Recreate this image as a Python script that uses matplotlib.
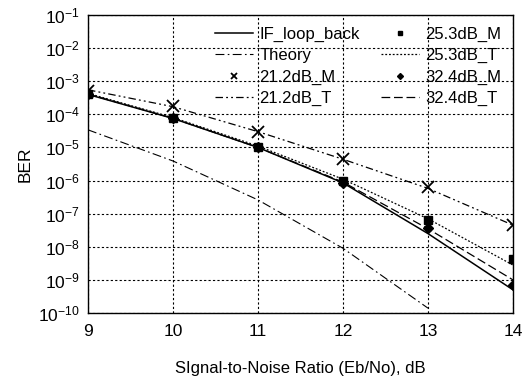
import numpy as np
import matplotlib.pyplot as plt

plt.rcParams['font.family'] = ['Liberation Sans', 'DejaVu Sans']

# data
snr = [9, 10, 11, 12, 13, 14]
snr_theory = [9, 10, 11, 12, 13]

if_loop = [4.0e-4, 7.5e-5, 1.0e-5, 8.5e-7, 2.5e-8, 5.0e-10]
theory = [3.4e-5, 3.9e-6, 2.6e-7, 9.0e-9, 1.4e-10]
m21 = [5.0e-4, 1.8e-4, 3.0e-5, 4.6e-6, 6.3e-7, 4.7e-8]
t21 = [5.5e-4, 1.7e-4, 3.0e-5, 4.4e-6, 5.8e-7, 4.5e-8]
m25 = [4.2e-4, 7.8e-5, 1.0e-5, 9.5e-7, 6.5e-8, 4.3e-9]
t25 = [4.3e-4, 8.0e-5, 1.1e-5, 1.1e-6, 7.0e-8, 2.8e-9]
m32 = [4.0e-4, 7.5e-5, 1.0e-5, 8.5e-7, 3.7e-8, 7.0e-10]
t32 = [4.1e-4, 7.6e-5, 1.0e-5, 9.0e-7, 3.5e-8, 1.0e-9]

fig = plt.figure(figsize=(5.22, 3.78), dpi=100)
ax = fig.add_axes([88/522, 1 - 313/378, 425/522, 298/378])

ax.plot(snr, if_loop, '-', color='black', lw=1.1, label='IF_loop_back')
ax.plot(snr_theory, theory, color='black', lw=0.8, dashes=[8, 3, 1.5, 3], label='Theory')
ax.plot(snr, m21, 'x', color='black', ms=8, mew=1.3, label='21.2dB_M')
ax.plot(snr, t21, color='black', lw=0.9, dashes=[6, 2.5, 1.5, 2.5, 1.5, 2.5], label='21.2dB_T')
ax.plot(snr, m25, 's', color='black', ms=6, label='25.3dB_M')
ax.plot(snr, t25, color='black', lw=0.9, dashes=[1.5, 1.5], label='25.3dB_T')
ax.plot(snr, m32, 'D', color='black', ms=5.5, label='32.4dB_M')
ax.plot(snr, t32, color='black', lw=0.9, dashes=[7, 3], label='32.4dB_T')

ax.set_yscale('log')
ax.set_xlim(9, 14)
ax.set_ylim(1e-10, 1e-1)
ax.set_xticks(snr)
ax.set_yticks([10.0**k for k in range(-10, 0)])
ax.minorticks_off()
ax.grid(True, which='major', color='black', ls=(0, (2, 2)), lw=0.8)
ax.tick_params(axis='y', length=0, labelsize=12.5, pad=6)
ax.tick_params(axis='x', length=0, labelsize=12.5, pad=8)
for s in ax.spines.values():
    s.set_linewidth(1.0)

ax.set_xlabel('SIgnal-to-Noise Ratio (Eb/No), dB', fontsize=12, labelpad=16)
ax.set_ylabel('BER', fontsize=12.5, labelpad=4)

ax.legend(ncol=2, loc='upper right', frameon=False, fontsize=12,
          handlelength=2.3, handletextpad=0.35, columnspacing=1.3,
          labelspacing=0.38, borderaxespad=0.3, markerscale=0.55)

fig.savefig('out.png', dpi=100)
